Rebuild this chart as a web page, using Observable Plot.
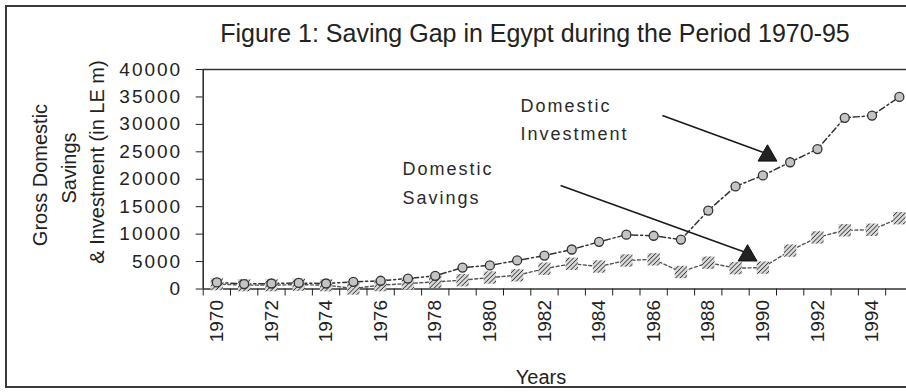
<!DOCTYPE html>
<html><head><meta charset="utf-8">
<script src="https://cdn.jsdelivr.net/npm/d3@7"></script>
<script src="https://cdn.jsdelivr.net/npm/@observablehq/plot@0.6"></script>
<style>
html,body{margin:0;padding:0;background:#fff;}
#wrap{position:relative;width:906px;height:392px;overflow:hidden;font-family:"Liberation Sans",Arial,sans-serif;color:#222;}
#frame{position:absolute;left:5px;top:5px;width:960px;height:383px;border:2px solid #3a3a3a;box-sizing:border-box;}
#title{position:absolute;left:0;width:1070px;top:19px;text-align:center;font-size:25px;white-space:nowrap;}
.ytitle{position:absolute;font-size:20px;white-space:nowrap;transform:translate(-50%,-50%) rotate(-90deg);}
#xtitle{position:absolute;left:541px;top:377px;transform:translate(-50%,-50%);font-size:20px;}
#chart{position:absolute;left:0;top:0;}
svg [aria-label="y-axis tick label"] text{letter-spacing:2px;}
</style>
</head><body>
<div id="wrap">
  <div id="frame"></div>
  <div id="chart"></div>
  <div id="title">Figure 1: Saving Gap in Egypt during the Period 1970-95</div>
  <div class="ytitle" style="left:40px;top:175px;">Gross Domestic</div>
  <div class="ytitle" style="left:69px;top:168px;">Savings</div>
  <div class="ytitle" style="left:97px;top:162px;">&amp; Investment (in LE m)</div>
  <div id="xtitle">Years</div>
</div>
<script>
const years = [1970,1971,1972,1973,1974,1975,1976,1977,1978,1979,1980,1981,1982,1983,1984,1985,1986,1987,1988,1989,1990,1991,1992,1993,1994,1995];
const investment = [1200,900,1000,1100,1000,1300,1500,1900,2400,3900,4300,5200,6100,7200,8600,9900,9700,9000,14300,18700,20700,23100,25500,31200,31600,35000];
const savings = [900,700,700,800,700,100,700,1000,1300,1600,2100,2500,3700,4600,4100,5200,5400,3100,4800,3800,3900,7000,9400,10700,10800,12900];
const yTicks = [0,5000,10000,15000,20000,25000,30000,35000,40000];
const labelYears = [1970,1972,1974,1976,1978,1980,1982,1984,1986,1988,1990,1992,1994];
const boundaries = [1969.5,1970.5,1971.5,1972.5,1973.5,1974.5,1975.5,1976.5,1977.5,1978.5,1979.5,1980.5,1981.5,1982.5,1983.5,1984.5,1985.5,1986.5,1987.5,1988.5,1989.5,1990.5,1991.5,1992.5,1993.5,1994.5,1995.5];
const labelText = ["Domestic\nInvestment","Domestic\nSavings"];
const labelX = [1981.12,1976.8];
const labelY = [31400,19800];
const arrowX1 = [1986.32,1982.59];
const arrowY1 = [31600,18860];
const arrowX2 = [1990.0,1989.35];
const arrowY2 = [24900,6700];
const tipX = [1990.17,1989.44];
const tipY = [24300,6100];

const data = years.map((y,i)=>({year:y, investment:investment[i], savings:savings[i]}));
const labels = labelText.map((t,i)=>({text:t, x:labelX[i], y:labelY[i]}));
const arrows = arrowX1.map((_,i)=>({x1:arrowX1[i], y1:arrowY1[i], x2:arrowX2[i], y2:arrowY2[i], tx:tipX[i], ty:tipY[i]}));

const chart = Plot.plot({
  width:906, height:392,
  marginLeft:202.7, marginRight:0, marginTop:69, marginBottom:103.5,
  x:{domain:[1969.5,1995.5], range:[202.7,912.5]},
  y:{domain:[0,40000], range:[288.5,69]},
  style:{fontFamily:"'Liberation Sans', Arial, sans-serif", color:"#222", background:"transparent"},
  marks:[
    Plot.ruleY([40000],{stroke:"#333",strokeWidth:1.6}),
    Plot.ruleY([0],{stroke:"#333",strokeWidth:1.6}),
    Plot.ruleX([1969.5],{stroke:"#333",strokeWidth:1.6}),
    Plot.axisY(yTicks,{tickSize:7,tickPadding:14,fontSize:19,label:null,tickFormat:d=>String(d)}),
    Plot.axisX(boundaries,{tickSize:7,tickFormat:()=>"",label:null}),
    Plot.axisX(labelYears,{tickSize:0,tickPadding:11,tickRotate:-90,fontSize:19,label:null,tickFormat:d=>String(d)}),
    Plot.line(data,{x:"year",y:"savings",stroke:"#555",strokeWidth:1.4,strokeDasharray:"3,2.5"}),
    Plot.line(data,{x:"year",y:"investment",stroke:"#333",strokeWidth:1.5,strokeDasharray:"6,3,2,3"}),
    Plot.dot(data,{x:"year",y:"savings",symbol:"square",r:7,fill:"url(#hatch)"}),
    Plot.dot(data,{x:"year",y:"investment",r:4.5,fill:"#c4c4c4",stroke:"#333",strokeWidth:1.3}),
    Plot.link(arrows,{x1:"x1",y1:"y1",x2:"x2",y2:"y2",stroke:"#1a1a1a",strokeWidth:1.6}),
    Plot.dot(arrows,{x:"tx",y:"ty",symbol:"triangle",r:7,fill:"#222",stroke:"#111",strokeWidth:1}),
    Plot.text(labels,{x:"x",y:"y",text:"text",textAnchor:"start",lineHeight:1.6,fontSize:18,fill:"#2a2a2a"})
  ]
});
d3.select(chart).insert("defs",":first-child").html(
  '<pattern id="hatch" width="3.2" height="3.2" patternUnits="userSpaceOnUse" patternTransform="rotate(45)">' +
  '<rect width="3.2" height="3.2" fill="#d8d8d8"/><line x1="0" y1="0" x2="0" y2="3.2" stroke="#3c3c3c" stroke-width="1.6"/></pattern>');
d3.select(chart).selectAll('g[aria-label="text"] text').style("letter-spacing","2px");
document.getElementById("chart").appendChild(chart);
</script>
</body></html>
